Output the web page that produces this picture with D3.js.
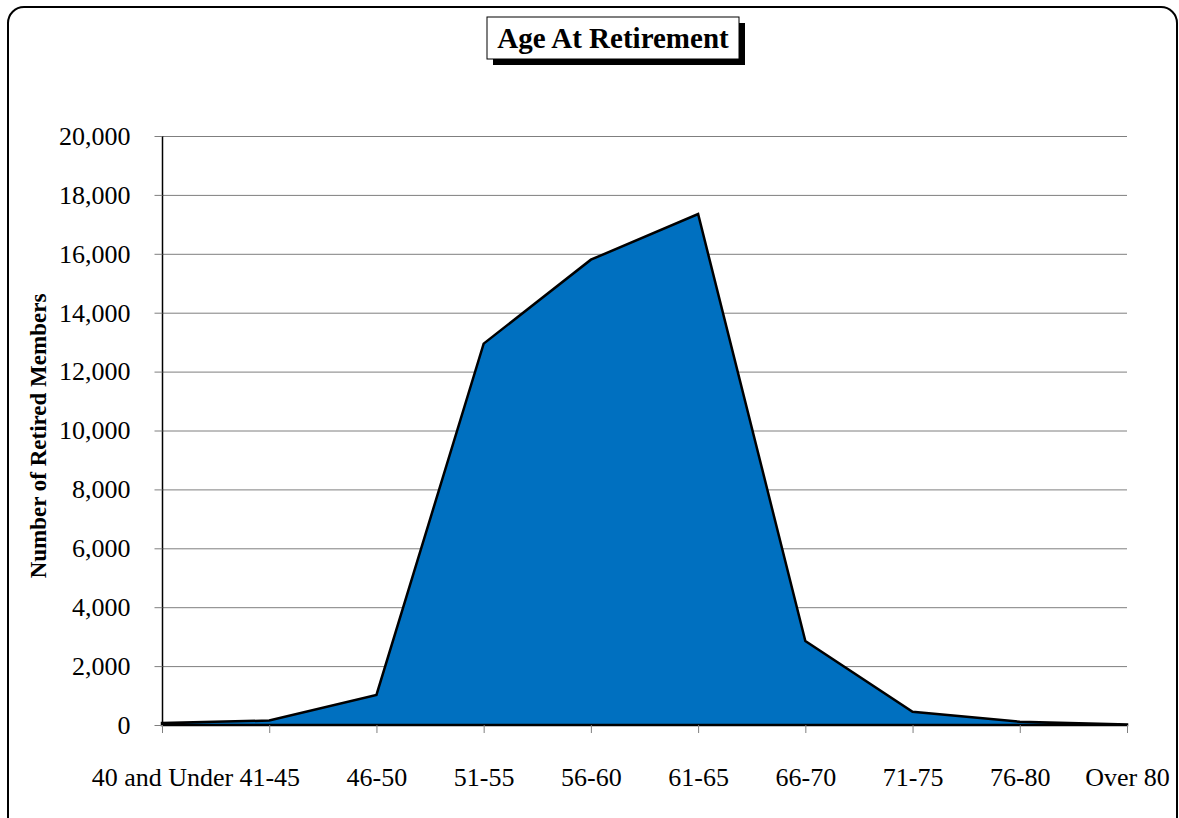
<!DOCTYPE html>
<html>
<head>
<meta charset="utf-8">
<script src="https://cdn.jsdelivr.net/npm/d3@7"></script>
<style>
	body { margin: 0; background: #fff; }
	svg { display: block; font-family: "Liberation Serif", "Times New Roman", serif; }
</style>
</head>
<body>
<script>
//chart data
var ageGroups = ["40 and Under", "41-45", "46-50", "51-55", "56-60", "61-65", "66-70", "71-75", "76-80", "Over 80"];
var retiredCounts = [70, 150, 1020, 12950, 15800, 17350, 2850, 450, 110, 20];
var yTicks = [0, 2000, 4000, 6000, 8000, 10000, 12000, 14000, 16000, 18000, 20000];
var chartTitle = "Age At Retirement";
var yTitle = "Number of Retired Members";

var W = 1179, H = 818;
var margin = {top: 136, right: 52, bottom: 93, left: 162};
var serif = "'Liberation Serif', 'Times New Roman', serif";

var svg = d3.select("body").append("svg")
	.attr("width", W)
	.attr("height", H);

//outer rounded frame
svg.append("rect")
	.attr("x", 8).attr("y", 7)
	.attr("width", 1169).attr("height", H + 20)
	.attr("rx", 16).attr("ry", 16)
	.style("fill", "none")
	.style("stroke", "#000")
	.style("stroke-width", 2);

var xScale = d3.scalePoint()
	.domain(ageGroups)
	.range([margin.left, W - margin.right]);
var yScale = d3.scaleLinear()
	.domain([0, 20000])
	.range([H - margin.bottom, margin.top]);

//gridlines
svg.append("g").selectAll("line")
	.data(yTicks.slice(1)).enter()
		.append("line")
		.attr("x1", margin.left)
		.attr("x2", W - margin.right)
		.attr("y1", function(d) { return yScale(d) + 0.5; })
		.attr("y2", function(d) { return yScale(d) + 0.5; })
		.style("stroke", "#7f7f7f")
		.style("stroke-width", 1);

//the area
var area = d3.area()
	.x(function(d, i) { return xScale(ageGroups[i]); })
	.y0(yScale(0))
	.y1(function(d) { return yScale(d); });

svg.append("path")
	.datum(retiredCounts)
	.attr("d", area)
	.style("fill", "#0070c0")
	.style("stroke", "#000")
	.style("stroke-width", 2.5)
	.style("stroke-linejoin", "miter");

//axes
var yAxis = d3.axisLeft(yScale)
	.tickValues(yTicks)
	.tickSize(8)
	.tickPadding(24)
	.tickFormat(d3.format(","));
var gY = svg.append("g")
	.attr("transform", "translate(" + (margin.left + 0.5) + ",0)")
	.call(yAxis)
	.attr("font-family", serif);
gY.select(".domain").attr("d", "M0," + yScale(0) + "V" + yScale(20000));
gY.selectAll("text").style("font-size", "26px").style("fill", "#000");
gY.selectAll("line").style("stroke", "#7f7f7f");
gY.select(".domain").style("stroke", "#000").style("stroke-width", 1.5);

var xAxis = d3.axisBottom(xScale)
	.tickSize(8)
	.tickPadding(53);
var gX = svg.append("g")
	.attr("transform", "translate(0," + yScale(0) + ")")
	.call(xAxis)
	.attr("font-family", serif);
gX.select(".domain").remove();
gX.selectAll("line").style("stroke", "#7f7f7f");
gX.selectAll("text").style("font-size", "26px").style("fill", "#000").attr("dy", "0");

//y axis title
svg.append("text")
	.attr("transform", "translate(46," + 436 + ") rotate(-90)")
	.style("text-anchor", "middle")
	.style("font-size", "23px")
	.style("font-weight", "bold")
	.text(yTitle);

//title box with shadow
var tb = {x: 487, y: 17, w: 252, h: 42};
svg.append("rect")
	.attr("x", tb.x + 6).attr("y", tb.y + 6)
	.attr("width", tb.w).attr("height", tb.h)
	.style("fill", "#000");
svg.append("rect")
	.attr("x", tb.x).attr("y", tb.y)
	.attr("width", tb.w).attr("height", tb.h)
	.style("fill", "#fff")
	.style("stroke", "#000")
	.style("stroke-width", 1);
svg.append("text")
	.attr("x", tb.x + tb.w / 2)
	.attr("y", tb.y + tb.h / 2 + 10)
	.style("text-anchor", "middle")
	.style("font-size", "29px")
	.style("font-weight", "bold")
	.text(chartTitle);
</script>
</body>
</html>
